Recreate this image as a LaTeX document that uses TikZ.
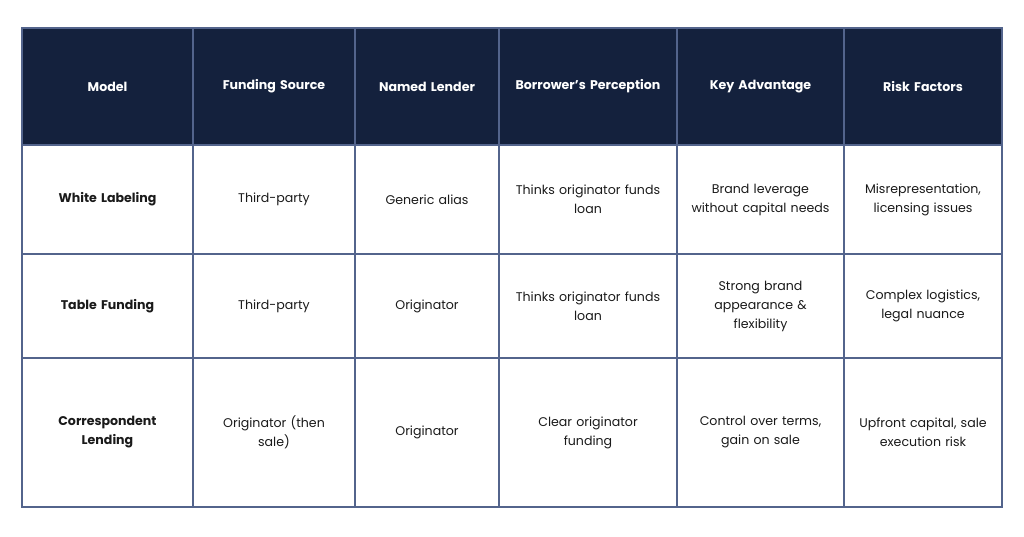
\documentclass[tikz,border=0pt]{standalone}
\usepackage{fontspec}
\setmainfont{Poppins}
\usepackage{tikz}

\definecolor{headnavy}{HTML}{14213D}
\definecolor{gridblue}{HTML}{53648C}
\definecolor{bodytext}{HTML}{1A1A1A}

\tikzset{
  cell/.style={draw=gridblue, line width=1.2pt, rectangle, inner sep=0pt, outer sep=0pt,
    align=center, font=\fontsize{12.6}{19}\selectfont, text=bodytext},
  headcell/.style={cell, fill=headnavy, text=white, font=\fontsize{12.6}{19}\selectfont\bfseries},
  rowcell/.style={cell, font=\fontsize{12.6}{19}\selectfont\bfseries}
}

% one body row: row, top, bottom, then six cell texts
\newcommand{\bodyrow}[9]{%
  \node (m-#1) [rowcell, minimum width=171, minimum height=#3-#2, text width=163] at (107.5, {(#2+#3)/2}) {#4};
  \node (f-#1) [cell, minimum width=162, minimum height=#3-#2, text width=156] at (274, {(#2+#3)/2}) {#5};
  \node (n-#1) [cell, minimum width=144, minimum height=#3-#2, text width=138] at (427, {(#2+#3)/2}) {#6};
  \node (b-#1) [cell, minimum width=178, minimum height=#3-#2, text width=172] at (588, {(#2+#3)/2}) {#7};
  \node (k-#1) [cell, minimum width=167, minimum height=#3-#2, text width=161] at (760.5, {(#2+#3)/2}) {#8};
  \node (r-#1) [cell, minimum width=158, minimum height=#3-#2, text width=152] at (923, {(#2+#3)/2}) {#9};
}

\begin{document}
\begin{tikzpicture}[x=1pt, y=-1pt]
  \useasboundingbox (0,0) rectangle (1024,536);
  % header row
  \foreach \name/\xa/\xb/\txt in {m/22/193/Model, f/193/355/Funding Source, n/355/499/Named Lender,
      b/499/677/Borrower’s Perception, k/677/844/Key Advantage, r/844/1002/Risk Factors}
    \node (h-\name) [headcell, minimum width=\xb-\xa, minimum height=117, text width=\xb-\xa-4]
      at ({(\xa+\xb)/2}, 86.5) {\txt};
  % body rows
  \bodyrow{1}{145}{254}{White Labeling}{Third-party}{Generic alias}{Thinks originator funds\\loan}{Brand leverage\\without capital needs}{Misrepresentation,\\licensing issues}
  \bodyrow{2}{254}{358}{Table Funding}{Third-party}{Originator}{Thinks originator funds\\loan}{Strong brand\\appearance \&\\flexibility}{Complex logistics,\\legal nuance}
  \bodyrow{3}{358}{507}{Correspondent\\Lending}{Originator (then\\sale)}{Originator}{Clear originator\\funding}{Control over terms,\\gain on sale}{Upfront capital, sale\\execution risk}
\end{tikzpicture}
\end{document}
